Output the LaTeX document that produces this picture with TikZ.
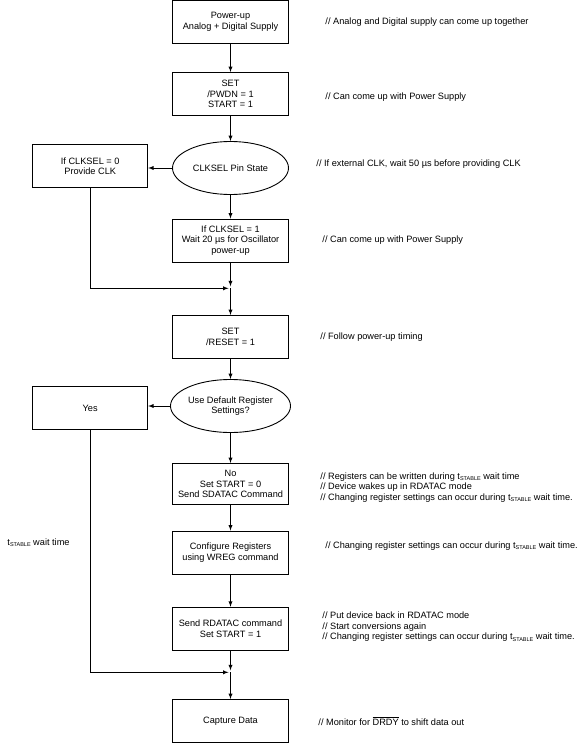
\documentclass[tikz,border=0pt]{standalone}
\usepackage{fontspec}
\setmainfont{Liberation Sans}
\usepackage{tikz}
\usetikzlibrary{shapes}

\newcommand{\tstab}{t\raisebox{-1.2pt}{\fontsize{5.5}{6}\selectfont STABLE}}

\begin{document}
\begin{tikzpicture}[x=1pt, y=-1pt, line width=0.9pt,
  font=\fontsize{9.2}{10.5}\selectfont,
  stepbox/.style={draw, rectangle, minimum width=116pt, minimum height=43pt, align=center, inner sep=2pt},
  choice/.style={draw, ellipse, minimum width=116pt, minimum height=53pt, align=center, inner sep=0pt},
  remark/.style={anchor=west, align=left, inner sep=0pt},
  flow/.style={-latex}]
\useasboundingbox (0,0) rectangle (581,743);

% main column
\node [stepbox] (pwr) at (230.5,22) {Power-up\\Analog + Digital Supply};
\node [stepbox] (set) at (230.5,94) {SET\\/PWDN = 1\\START = 1};
\node [choice] (pin) at (230.5,168) {CLKSEL Pin State};
\node [stepbox, minimum width=115pt] (prov) at (90.2,166) {If CLKSEL = 0\\Provide CLK};
\node [stepbox] (osc) at (230.5,240.5) {If CLKSEL = 1\\Wait 20 µs for Oscillator\\power-up};
\coordinate (j1) at (230.5,288.3);
\node [stepbox] (rst) at (230.5,337) {SET\\/RESET = 1};
\node [choice] (dflt) at (230.5,406) {Use Default Register\\Settings?};
\node [stepbox, minimum width=115pt] (yes) at (90.2,408) {Yes};
\node [stepbox, minimum height=41pt] (no) at (230.5,484) {No\\Set START = 0\\Send SDATAC Command};
\node [stepbox] (cfg) at (230.5,552.5) {Configure Registers\\using WREG command};
\node [stepbox] (rdat) at (230.5,628.7) {Send RDATAC command\\Set START = 1};
\coordinate (j2) at (230.5,672.3);
\node [stepbox] (cap) at (230.5,721) {Capture Data};

% comments
\node [remark] (n1) at (325,22) {// Analog and Digital supply can come up together};
\node [remark] (n2) at (325,97) {// Can come up with Power Supply};
\node [remark] (n3) at (316,164) {// If external CLK, wait 50 µs before providing CLK};
\node [remark] (n4) at (322,240) {// Can come up with Power Supply};
\node [remark] (n5) at (320,337) {// Follow power-up timing};
\node [remark] (n6) at (320,487.5) {// Registers can be written during \tstab{} wait time\\// Device wakes up in RDATAC mode\\// Changing register settings can occur during \tstab{} wait time.};
\node [remark] (n7) at (325,546) {// Changing register settings can occur during \tstab{} wait time.};
\node [remark] (n8) at (322,627) {// Put device back in RDATAC mode\\// Start conversions again\\// Changing register settings can occur during \tstab{} wait time.};
\node [remark] (n9) at (318,721) {// Monitor for $\overline{\mbox{DRDY}}$ to shift data out};
\node [remark] (wt) at (7,543) {\tstab{} wait time};

% connectors
\draw [flow] (pwr) -- (set);
\draw [flow] (set) -- (pin);
\draw [flow] (pin.west) -- (pin.west -| prov.east);
\draw [flow] (pin) -- (osc);
\draw [flow, shorten >=2pt] (osc) -- (j1);
\draw [flow, shorten >=2pt] (prov) |- (j1);
\draw [flow] (j1) -- (rst);
\draw [flow] (rst) -- (dflt);
\draw [flow] (dflt.west) -- (dflt.west -| yes.east);
\draw [flow] (dflt) -- (no);
\draw [flow] (no) -- (cfg);
\draw [flow] (cfg) -- (rdat);
\draw [flow, shorten >=2pt] (rdat) -- (j2);
\draw [flow, shorten >=2pt] (yes) |- (j2);
\draw [flow] (j2) -- (cap);
\end{tikzpicture}
\end{document}
